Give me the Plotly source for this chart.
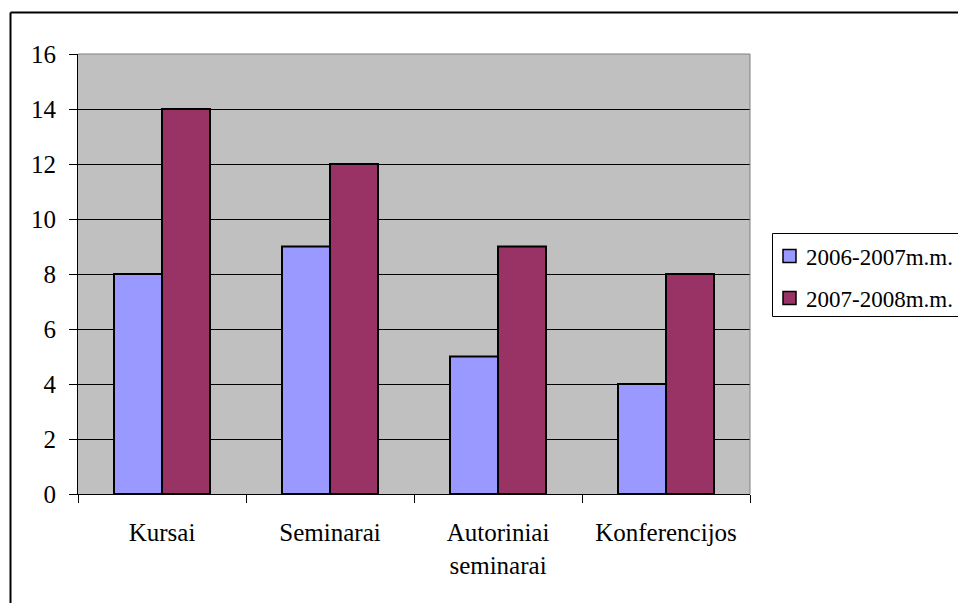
import plotly.graph_objects as go

categories = ["Kursai", "Seminarai", "Autoriniai<br>seminarai", "Konferencijos"]
series_names = ["2006-2007m.m.", "2007-2008m.m."]
values_2006 = [8, 9, 5, 4]
values_2007 = [14, 12, 9, 8]
y_ticks = [0, 2, 4, 6, 8, 10, 12, 14, 16]
colors = ["#9999FF", "#993366"]

W, H = 958, 603
L, R, T, B = 78, 750, 54, 494
FONT = "Liberation Serif"


def px(x):
    return (x - L) / (R - L)


def py(y):
    return (B - y) / (B - T)


fig = go.Figure()
for name, vals, col in zip(series_names, [values_2006, values_2007], colors):
    fig.add_trace(go.Bar(x=categories, y=vals, name=name, hoverinfo="skip",
                         marker=dict(color=col, line=dict(color="black", width=2))))

shapes = [
    # plot area border (gray) on top and right
    dict(type="line", xref="paper", yref="paper", x0=1, x1=1, y0=0, y1=1,
         line=dict(color="#808080", width=1)),
    dict(type="line", xref="paper", yref="paper", x0=0, x1=1, y0=1, y1=1,
         line=dict(color="#808080", width=1)),
    # outer chart border (left and top visible)
    dict(type="line", xref="paper", yref="paper", x0=px(10.5), x1=px(10.5),
         y0=py(12.5), y1=py(700), line=dict(color="black", width=2)),
    dict(type="line", xref="paper", yref="paper", x0=px(10.5), x1=px(1100),
         y0=py(12.5), y1=py(12.5), line=dict(color="black", width=2)),
    # legend box
    dict(type="rect", xref="paper", yref="paper", x0=px(772.5), x1=px(1100),
         y0=py(233.5), y1=py(316.5), fillcolor="white",
         line=dict(color="black", width=1), layer="below"),
]
annotations = []
legend_y = [256, 298]
for name, col, yc in zip(series_names, colors, legend_y):
    shapes.append(dict(type="rect", xref="paper", yref="paper",
                       x0=px(783), x1=px(796), y0=py(yc - 6.5), y1=py(yc + 6.5),
                       fillcolor=col, line=dict(color="black", width=1.5)))
    annotations.append(dict(xref="paper", yref="paper", x=px(804), y=py(yc + 1),
                            xanchor="left", yanchor="middle", showarrow=False,
                            text=name, font=dict(family=FONT, size=23, color="black")))

fig.update_layout(
    width=W, height=H,
    margin=dict(l=L, r=W - R, t=T, b=H - B, autoexpand=False),
    paper_bgcolor="white",
    plot_bgcolor="#C0C0C0",
    barmode="group",
    bargap=72 / 168,
    bargroupgap=0,
    font=dict(family=FONT, size=25, color="black"),
    showlegend=False,
    hovermode=False,
    xaxis=dict(
        type="category", showgrid=False, showline=True, linecolor="black", linewidth=1,
        ticks="outside", ticklen=8, tickcolor="black", tickson="boundaries",
        ticklabelstandoff=16, zeroline=False,
    ),
    yaxis=dict(
        range=[0, 16], tickvals=y_ticks, showgrid=True, gridcolor="black", gridwidth=1,
        showline=True, linecolor="black", linewidth=1, zeroline=False,
        ticks="outside", ticklen=8, tickcolor="black", ticklabelstandoff=8,
    ),
    shapes=shapes,
    annotations=annotations,
)

fig.write_html("out.html", config={"displayModeBar": False, "staticPlot": True},
               post_script="document.body.style.margin='0';document.body.style.overflow='hidden';")
